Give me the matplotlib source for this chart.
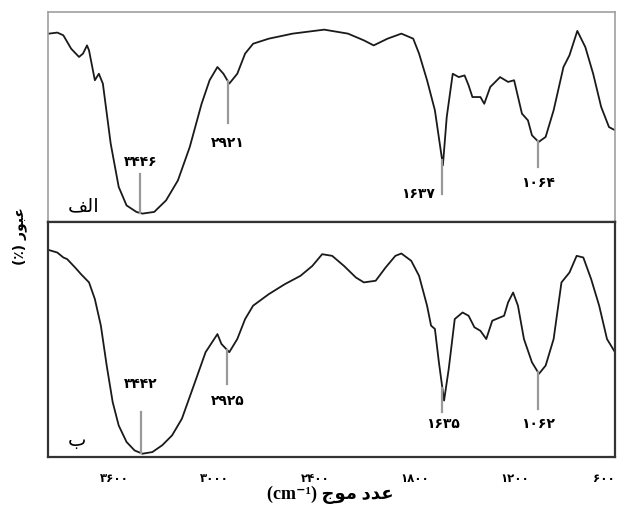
import numpy as np
import matplotlib
matplotlib.use("Agg")
from matplotlib import pyplot as plt

# wavenumber (cm-1) and transmittance (%, panel scale)
wn_a = [3994, 3944, 3908, 3861, 3814, 3790, 3766, 3754, 3719, 3695, 3671, 3624,
        3576, 3529, 3470, 3434, 3363, 3292, 3221, 3150, 3079, 3031, 2984, 2948,
        2913, 2865, 2818, 2770, 2676, 2533, 2344, 2201, 2106, 2047, 1964, 1881,
        1810, 1775, 1727, 1680, 1632, 1609, 1573, 1537, 1502, 1478, 1455, 1407,
        1384, 1348, 1289, 1241, 1205, 1158, 1122, 1098, 1058, 1016, 968, 909,
        873, 826, 778, 731, 683, 636, 600]
tr_a = [89.7, 90.2, 88.9, 82.5, 78.6, 80.2, 84.1, 81.7, 67.5, 70.6, 65.9, 37.3,
        16.7, 7.9, 4.8, 4.0, 4.8, 10.3, 19.8, 35.7, 56.3, 67.5, 73.8, 70.6,
        65.9, 70.6, 80.2, 84.9, 87.3, 89.7, 91.6, 89.7, 86.5, 84.1, 87.3, 89.7,
        87.3, 80.2, 67.5, 53.2, 27.0, 50.0, 70.6, 69.0, 69.8, 65.1, 59.5, 59.5,
        56.3, 64.3, 69.0, 66.7, 67.5, 51.6, 48.4, 41.3, 38.1, 40.5, 53.2, 73.8,
        79.4, 91.0, 83.3, 70.6, 54.8, 45.2, 43.7]

wn_b = [3996, 3944, 3908, 3885, 3837, 3802, 3754, 3719, 3683, 3648, 3612, 3576,
        3529, 3481, 3434, 3374, 3315, 3256, 3197, 3126, 3055, 2984, 2960, 2913,
        2865, 2818, 2770, 2676, 2581, 2486, 2415, 2356, 2296, 2225, 2154, 2106,
        2035, 1976, 1917, 1881, 1822, 1775, 1727, 1703, 1680, 1656, 1625, 1597,
        1561, 1514, 1478, 1443, 1407, 1372, 1336, 1289, 1265, 1241, 1211, 1182,
        1146, 1098, 1056, 1016, 968, 921, 873, 830, 790, 743, 695, 648, 600]
tr_b = [88.1, 87.0, 84.9, 84.2, 80.6, 77.8, 74.3, 67.2, 55.9, 38.9, 23.3, 13.4,
        6.4, 2.8, 1.4, 2.1, 5.0, 9.2, 16.3, 30.4, 44.6, 52.3, 48.1, 44.6,
        50.2, 58.7, 64.4, 69.3, 73.5, 77.1, 81.3, 86.3, 85.6, 81.3, 76.4, 74.3,
        75.0, 80.6, 85.6, 86.6, 83.5, 77.1, 64.4, 55.9, 54.5, 40.3, 24.0, 37.5,
        58.7, 61.5, 60.1, 55.2, 53.7, 50.2, 58.0, 59.4, 60.1, 65.8, 70.0, 64.4,
        50.2, 40.3, 35.4, 38.9, 50.2, 74.3, 78.5, 85.6, 84.9, 75.7, 64.4, 50.2, 44.6]

xticks = [3600, 3000, 2400, 1800, 1200, 600]
xtick_labels = ["۳۶۰۰", "۳۰۰۰", "۲۴۰۰", "۱۸۰۰", "۱۲۰۰", "۶۰۰"]

# peak marks: (wavenumber, label, end of marker line, label height, label anchor)
peaks_a = [(3446, "۳۴۴۶", 23, 25, "up"), (2921, "۲۹۲۱", 47, 41, "down"),
           (1637, "۱۶۳۷", 13.5, 13.5, "left"), (1064, "۱۰۶۴", 26, 22, "down")]
peaks_b = [(3442, "۳۴۴۲", 19, 28, "up"), (2925, "۲۹۲۵", 31, 27, "down"),
           (1635, "۱۶۳۵", 19, 17, "down"), (1062, "۱۰۶۲", 20.5, 17, "down")]

panel_a = "ﻒﻟﺍ"   # الف (shaped, visual order)
panel_b = "ﺏ"     # ب
ylabel = "(٪) ﺭﻮﺒﻋ"          # عبور (٪)
xlabel = "(cm⁻¹) ﺝﻮﻣ ﺩﺪﻋ"     # عدد موج (cm⁻¹)

ar_font = ["DejaVu Sans"]

fig = plt.figure(figsize=(6.17, 5.11), dpi=100)
W, H = 617, 511
ax1 = fig.add_axes([48 / W, 1 - 222 / H, 567 / W, 210 / H])
ax2 = fig.add_axes([48 / W, 1 - 457 / H, 567 / W, 235 / H])


def draw(ax, wn, tr, peaks, label):
    ax.plot(wn, tr, color="#1a1a1a", lw=1.3)
    for w, txt, yend, ylab, kind in peaks:
        y0 = np.interp(w, wn[::-1], tr[::-1])
        ax.plot([w, w], [y0, yend], color="#999999", lw=1.6)
        if kind == "up":
            ax.text(w, ylab, txt, ha="center", va="bottom", fontsize=10,
                    fontweight="bold", family=ar_font)
        elif kind == "down":
            ax.text(w, ylab, txt, ha="center", va="top", fontsize=10,
                    fontweight="bold", family=ar_font)
        else:
            ax.text(w + 45, ylab, txt, ha="right", va="center", fontsize=10,
                    fontweight="bold", family=ar_font)
    ax.text(3880, 3, label, ha="left", va="bottom", fontsize=14,
            family=ar_font)
    ax.set_xlim(4000, 600)
    ax.set_ylim(0, 100)
    ax.set_yticks([])


draw(ax1, wn_a, tr_a, peaks_a, panel_a)
draw(ax2, wn_b, tr_b, peaks_b, panel_b)

for s in ["top", "left", "right"]:
    ax1.spines[s].set_color("#a0a0a0")
    ax1.spines[s].set_linewidth(1.2)
ax1.spines["bottom"].set_color("#333333")
ax1.spines["bottom"].set_linewidth(1.6)
ax1.set_xticks([])
for s in ax2.spines.values():
    s.set_color("#333333")
    s.set_linewidth(1.6)

ax2.set_xticks(xticks)
ax2.set_xticklabels(xtick_labels, family=ar_font, fontsize=8.5, fontweight="bold")
ax2.tick_params(axis="x", length=0, pad=11)
ax2.get_xticklabels()[-1].set_horizontalalignment("right")

fig.text(20 / W, 1 - 236 / H, ylabel, rotation=90, ha="center", va="center",
         fontsize=10, fontweight="bold", family=ar_font)
fig.text(330 / W, 1 - 495 / H, xlabel, ha="center", va="center",
         fontsize=13, fontweight="bold", family=["Liberation Serif", "DejaVu Sans"])

fig.savefig("out.png", dpi=100)
